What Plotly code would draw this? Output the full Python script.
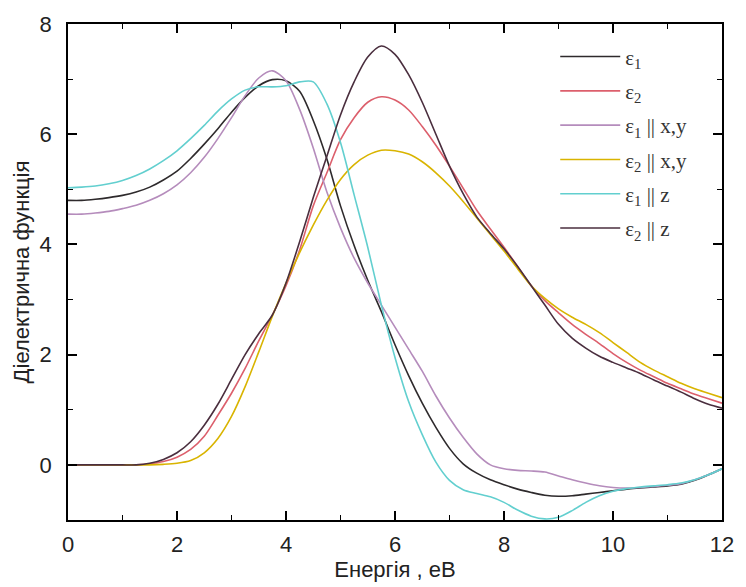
import plotly.graph_objects as go

# Energy grid (eV)
energy = [i * 0.25 for i in range(49)]

eps1 = [4.80, 4.80, 4.82, 4.85, 4.89, 4.95, 5.04, 5.17, 5.33, 5.56, 5.82, 6.10, 6.40, 6.67, 6.88, 6.99,
        6.97, 6.78, 6.25, 5.55, 4.70, 3.98, 3.35, 2.78, 2.18, 1.62, 1.12, 0.68, 0.30, 0.02, -0.15, -0.27,
        -0.36, -0.44, -0.50, -0.55, -0.57, -0.56, -0.53, -0.50, -0.47, -0.44, -0.42, -0.40, -0.38, -0.35,
        -0.28, -0.18, -0.07]

eps2 = [0, 0, 0, 0, 0, 0, 0.02, 0.06, 0.14, 0.28, 0.52, 0.90, 1.30, 1.75, 2.25, 2.72,
        3.25, 3.90, 4.70, 5.30, 5.90, 6.30, 6.58, 6.68, 6.62, 6.44, 6.14, 5.80, 5.42, 5.02, 4.62, 4.28,
        3.95, 3.60, 3.25, 2.98, 2.76, 2.55, 2.37, 2.20, 2.02, 1.86, 1.72, 1.60, 1.48, 1.38,
        1.28, 1.20, 1.12]

eps1_xy = [4.55, 4.55, 4.57, 4.60, 4.65, 4.71, 4.80, 4.92, 5.08, 5.30, 5.58, 5.92, 6.30, 6.70, 7.02, 7.15,
           6.97, 6.45, 5.75, 4.95, 4.30, 3.75, 3.30, 2.90, 2.50, 2.10, 1.70, 1.25, 0.85, 0.50, 0.20, 0.00,
           -0.07, -0.10, -0.11, -0.13, -0.20, -0.27, -0.33, -0.38, -0.41, -0.42, -0.41, -0.39, -0.37, -0.34,
           -0.27, -0.18, -0.07]

eps2_xy = [0, 0, 0, 0, 0, 0, 0, 0.01, 0.03, 0.08, 0.22, 0.48, 0.88, 1.42, 2.05, 2.70,
           3.30, 3.85, 4.35, 4.80, 5.18, 5.45, 5.62, 5.71, 5.70, 5.64, 5.50, 5.30, 5.06, 4.78, 4.48, 4.18,
           3.88, 3.56, 3.25, 3.02, 2.83, 2.68, 2.55, 2.40, 2.22, 2.04, 1.86, 1.72, 1.60, 1.48,
           1.38, 1.30, 1.22]

eps1_z = [5.03, 5.04, 5.06, 5.10, 5.16, 5.25, 5.37, 5.52, 5.70, 5.92, 6.16, 6.42, 6.64, 6.80, 6.86, 6.86,
          6.88, 6.95, 6.95, 6.55, 5.85, 4.90, 3.95, 2.90, 1.95, 1.15, 0.55, 0.05, -0.28, -0.45, -0.52, -0.58,
          -0.68, -0.82, -0.93, -0.98, -0.95, -0.83, -0.68, -0.56, -0.48, -0.43, -0.40, -0.38, -0.36, -0.33,
          -0.27, -0.18, -0.07]

eps2_z = [0, 0, 0, 0, 0, 0, 0.03, 0.10, 0.22, 0.42, 0.72, 1.10, 1.55, 2.00, 2.38, 2.72,
          3.30, 4.05, 4.85, 5.60, 6.35, 6.95, 7.40, 7.60, 7.45, 7.08, 6.58, 6.00, 5.42, 4.92, 4.50, 4.20,
          3.92, 3.60, 3.25, 2.90, 2.55, 2.30, 2.12, 1.97, 1.86, 1.76, 1.66, 1.54, 1.43, 1.32,
          1.20, 1.10, 1.03]

names = ["ε<sub>1</sub>", "ε<sub>2</sub>", "ε<sub>1</sub> || x,y", "ε<sub>2</sub> || x,y",
         "ε<sub>1</sub> || z", "ε<sub>2</sub> || z"]
series = [eps1, eps2, eps1_xy, eps2_xy, eps1_z, eps2_z]
colors = ["#2e2a2c", "#dc5f6c", "#b58cbc", "#d9b400", "#62cfcf", "#4a2e3e"]

fig = go.Figure()
for i, (nm, ys, c) in enumerate(zip(names, series, colors)):
    fig.add_trace(go.Scatter(x=energy, y=ys, mode="lines", name=nm,
                             legendgroup=f"g{i}",
                             line=dict(color=c, width=1.6, shape="spline", smoothing=0.8)))

sans = "Liberation Sans, Arial, sans-serif"
axis_common = dict(showline=True, linecolor="black", linewidth=1.5, mirror="allticks",
                   ticks="inside", ticklen=9, tickwidth=1.5, tickcolor="black",
                   showgrid=False, zeroline=False,
                   tickfont=dict(family=sans, size=22, color="#222"),
                   minor=dict(ticks="inside", ticklen=5, tickwidth=1.2, tickcolor="black", dtick=1))

fig.update_xaxes(range=[0, 12], dtick=2, tick0=0, ticklabelstandoff=4,
                 title=dict(text="Енергія , еВ", standoff=2,
                            font=dict(family=sans, size=22, color="#222")),
                 **axis_common)
fig.update_yaxes(range=[-1, 8], dtick=2, tick0=0, ticklabelstandoff=10,
                 title=dict(text="Діелектрична функція", standoff=4,
                            font=dict(family=sans, size=22, color="#222")),
                 **axis_common)

fig.update_layout(
    width=746, height=587,
    margin=dict(l=68, r=15, t=18, b=64),
    paper_bgcolor="white", plot_bgcolor="white",
    showlegend=True,
    legend=dict(x=0.745, y=0.975, xanchor="left", yanchor="top",
                bgcolor="rgba(0,0,0,0)", borderwidth=0,
                font=dict(family="Liberation Serif, Times New Roman, serif", size=21, color="#333"),
                tracegroupgap=4, itemwidth=60),
)

fig.write_html("out.html")
